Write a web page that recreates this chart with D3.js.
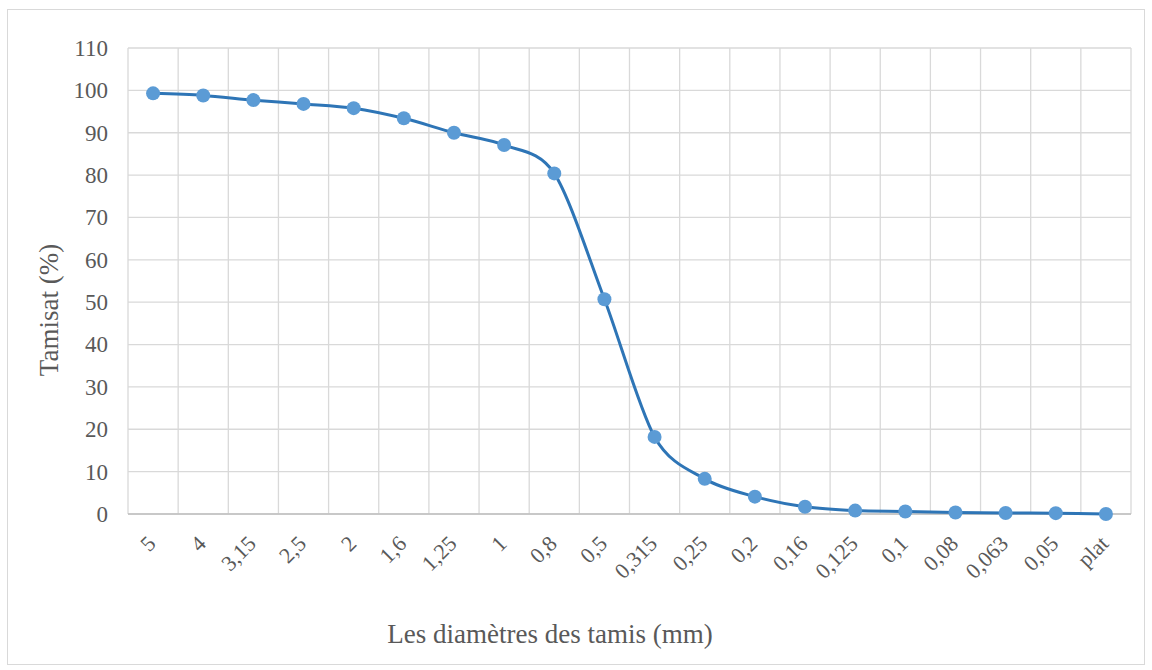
<!DOCTYPE html>
<html>
<head>
<meta charset="utf-8">
<script src="https://cdn.jsdelivr.net/npm/d3@7"></script>
<style>
    body { margin: 0; background: #fff; }
    svg { display: block; }
    text { font-family: 'Liberation Serif', 'Times New Roman', serif !important; }
</style>
</head>
<body>
<svg id="chart"></svg>
<script>
const sieves = ["5", "4", "3,15", "2,5", "2", "1,6", "1,25", "1", "0,8", "0,5",
    "0,315", "0,25", "0,2", "0,16", "0,125", "0,1", "0,08", "0,063", "0,05", "plat"];
const passing = [99.3, 98.8, 97.7, 96.8, 95.8, 93.4, 90.0, 87.1, 80.4, 50.7,
    18.2, 8.3, 4.1, 1.7, 0.8, 0.6, 0.35, 0.25, 0.2, 0.0];
const yTicks = [0, 10, 20, 30, 40, 50, 60, 70, 80, 90, 100, 110];

const width = 1152,
    height = 670;
const plotLeft = 128, plotRight = 1131, plotTop = 48, plotBottom = 514;
const textColor = "#595959";

const svg = d3.select("#chart").attr("width", width).attr("height", height);

// outer frame
svg.append("rect")
    .attr("x", 7.5).attr("y", 9.5)
    .attr("width", 1137).attr("height", 655)
    .attr("fill", "#fff").attr("stroke", "#d9d9d9");

const xScale = d3.scaleBand().domain(sieves).range([plotLeft, plotRight]);
const yScale = d3.scaleLinear().domain([0, 110]).range([plotBottom, plotTop]);

// horizontal grid
svg.append("g")
    .selectAll("line")
    .data(yTicks)
    .enter()
    .append("line")
    .attr("x1", plotLeft).attr("x2", plotRight)
    .attr("y1", (d) => yScale(d)).attr("y2", (d) => yScale(d))
    .attr("stroke", "#d9d9d9").attr("stroke-width", 1.3);

// vertical grid (category boundaries)
const bounds = sieves.map((s) => xScale(s)).concat([plotRight]);
svg.append("g")
    .selectAll("line")
    .data(bounds)
    .enter()
    .append("line")
    .attr("x1", (d) => d).attr("x2", (d) => d)
    .attr("y1", plotTop).attr("y2", plotBottom)
    .attr("stroke", "#d9d9d9").attr("stroke-width", 1.3);

// bottom axis line
svg.append("line")
    .attr("x1", plotLeft).attr("x2", plotRight)
    .attr("y1", plotBottom).attr("y2", plotBottom)
    .attr("stroke", "#bfbfbf").attr("stroke-width", 1.3);

// y axis labels
const yAxis = d3.axisLeft(yScale).tickValues(yTicks).tickSize(0).tickPadding(20);
const gy = svg.append("g").attr("transform", `translate(${plotLeft}, 0)`).call(yAxis);
gy.select(".domain").remove();
gy.selectAll("text")
    .attr("fill", textColor)
    .style("font-size", "23px");

// x axis labels
const xAxis = d3.axisBottom(xScale).tickSize(0).tickPadding(0);
const gx = svg.append("g").attr("transform", `translate(0, ${plotBottom})`).call(xAxis);
gx.select(".domain").remove();
gx.selectAll("text")
    .attr("fill", textColor)
    .style("font-size", "22px")
    .attr("text-anchor", "end")
    .attr("y", 0)
    .attr("dy", 0)
    .attr("transform", "translate(4, 31) rotate(-45)");

// axis titles
svg.append("text")
    .attr("x", 550).attr("y", 643)
    .attr("text-anchor", "middle")
    .attr("fill", textColor)
    .style("font-size", "27px")
    .text("Les diamètres des tamis (mm)");

svg.append("text")
    .attr("transform", "translate(58, 310) rotate(-90)")
    .attr("text-anchor", "middle")
    .attr("fill", textColor)
    .style("font-size", "27px")
    .text("Tamisat (%)");

// curve
const pts = sieves.map((s, i) => [xScale(s) + xScale.bandwidth() / 2, yScale(passing[i])]);
const line = d3.line().curve(d3.curveCardinal.tension(0.1));

svg.append("path")
    .attr("d", line(pts))
    .attr("fill", "none")
    .attr("stroke", "#2e75b6")
    .attr("stroke-width", 3);

svg.append("g")
    .selectAll("circle")
    .data(pts)
    .enter()
    .append("circle")
    .attr("cx", (d) => d[0])
    .attr("cy", (d) => d[1])
    .attr("r", 7)
    .attr("fill", "#5b9bd5");
</script>
</body>
</html>
